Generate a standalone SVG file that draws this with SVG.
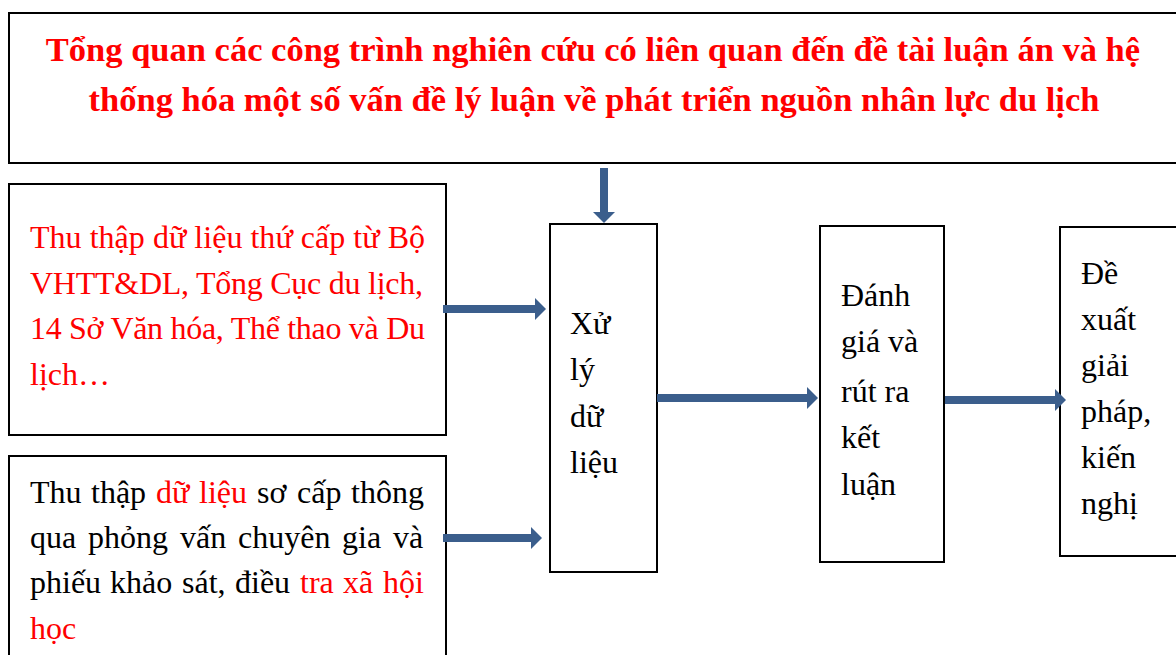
<svg xmlns="http://www.w3.org/2000/svg" width="1176" height="655" viewBox="0 0 1176 655">
<style>
.box{fill:#fff;stroke:#000;stroke-width:2}
.t{font-family:"Liberation Serif","Times New Roman",serif;font-size:32px;fill:#000}
.r{fill:#ff0000}
.title{font-family:"Liberation Serif","Times New Roman",serif;font-size:34.5px;font-weight:bold;fill:#ff0000;text-anchor:middle}
.arr{stroke:#3b5e8c;stroke-width:8;fill:none}
</style>
<defs>
<marker id="ah" markerUnits="userSpaceOnUse" markerWidth="12" markerHeight="22" refX="0" refY="11" orient="auto">
<path d="M0,0 L11,11 L0,22 z" fill="#3b5e8c"/>
</marker>
</defs>
<rect width="1176" height="655" fill="#fff"/>
<g id="top">
<rect class="box" x="9" y="13" width="1175" height="150"/>
<text class="title" x="593" y="61">Tổng quan các công trình nghiên cứu có liên quan đến đề tài luận án và hệ</text>
<text class="title" x="594" y="111">thống hóa một số vấn đề lý luận về phát triển nguồn nhân lực du lịch</text>
</g>
<g id="secondary">
<rect class="box" x="9" y="184" width="437" height="251"/>
<text class="t r" x="30" y="248" textLength="395" lengthAdjust="spacing">Thu thập dữ liệu thứ cấp từ Bộ</text>
<text class="t r" x="30" y="294" textLength="393" lengthAdjust="spacing">VHTT&amp;DL, Tổng Cục du lịch,</text>
<text class="t r" x="30" y="339" textLength="395" lengthAdjust="spacing">14 Sở Văn hóa, Thể thao và Du</text>
<text class="t r" x="30" y="385">lịch…</text>
</g>
<g id="primary">
<rect class="box" x="9" y="456" width="437" height="210"/>
<text class="t" y="503"><tspan x="30">Thu</tspan><tspan x="91">thập</tspan><tspan x="156" class="r">dữ</tspan><tspan x="199" class="r">liệu</tspan><tspan x="257">sơ</tspan><tspan x="297">cấp</tspan><tspan x="351">thông</tspan></text>
<text class="t" y="548"><tspan x="30">qua</tspan><tspan x="88">phỏng</tspan><tspan x="180">vấn</tspan><tspan x="238">chuyên</tspan><tspan x="342">gia</tspan><tspan x="393">và</tspan></text>
<text class="t" y="593"><tspan x="30">phiếu</tspan><tspan x="110">khảo</tspan><tspan x="182">sát,</tspan><tspan x="235">điều</tspan><tspan x="300" class="r">tra</tspan><tspan x="343" class="r">xã</tspan><tspan x="383" class="r">hội</tspan></text>
<text class="t r" x="30" y="639">học</text>
</g>
<g id="process">
<rect class="box" x="550" y="224" width="107" height="348"/>
<text class="t" x="570" y="334">Xử</text>
<text class="t" x="570" y="380">lý</text>
<text class="t" x="570" y="427">dữ</text>
<text class="t" x="570" y="473">liệu</text>
</g>
<g id="evaluate">
<rect class="box" x="820" y="226" width="124" height="336"/>
<text class="t" x="841" y="306">Đánh</text>
<text class="t" x="841" y="352">giá và</text>
<text class="t" x="841" y="402">rút ra</text>
<text class="t" x="841" y="448">kết</text>
<text class="t" x="841" y="495">luận</text>
</g>
<g id="propose">
<rect class="box" x="1060" y="227" width="130" height="329"/>
<text class="t" x="1081" y="284">Đề</text>
<text class="t" x="1081" y="330">xuất</text>
<text class="t" x="1081" y="376">giải</text>
<text class="t" x="1081" y="422">pháp,</text>
<text class="t" x="1081" y="468">kiến</text>
<text class="t" x="1081" y="514">nghị</text>
</g>
<g id="connectors">
<line class="arr" x1="604" y1="168" x2="604" y2="212" stroke-width="9" marker-end="url(#ah)"/>
<line class="arr" x1="443" y1="309" x2="535" y2="309" marker-end="url(#ah)"/>
<line class="arr" x1="443" y1="538" x2="531" y2="538" marker-end="url(#ah)"/>
<line class="arr" x1="657" y1="398" x2="807" y2="398" marker-end="url(#ah)"/>
<line class="arr" x1="945" y1="400" x2="1055" y2="400" marker-end="url(#ah)"/>
</g>
</svg>
